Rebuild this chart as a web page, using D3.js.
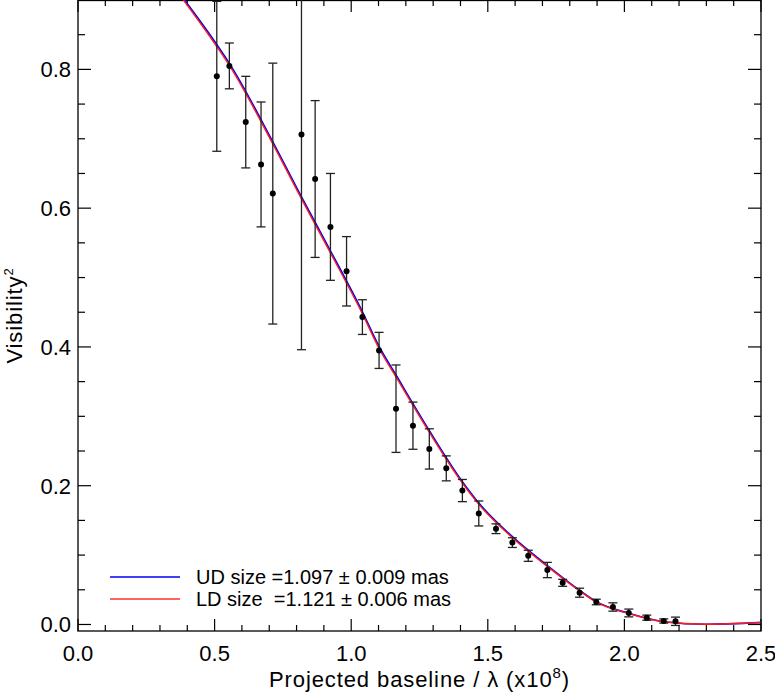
<!DOCTYPE html>
<html>
<head>
<meta charset="utf-8">
<script src="https://cdn.jsdelivr.net/npm/d3@7"></script>
<style>
  body { margin: 0; background: #fff; }
  svg { display: block; font-family: "Liberation Sans", Arial, sans-serif; }
</style>
</head>
<body>
<div id="chart"></div>
<script>
// measured points: baseline (x1e8), V^2 and its error
const baseline = [0.508, 0.554, 0.614, 0.670, 0.713, 0.818, 0.868, 0.924, 0.983, 1.041,
  1.102, 1.164, 1.226, 1.286, 1.348, 1.407, 1.467, 1.530, 1.590, 1.648,
  1.718, 1.774, 1.836, 1.897, 1.958, 2.016, 2.082, 2.144, 2.187];
const vis2 = [0.790, 0.805, 0.724, 0.663, 0.621, 0.706, 0.642, 0.573, 0.509, 0.443,
  0.395, 0.311, 0.2865, 0.253, 0.225, 0.193, 0.160, 0.138, 0.118, 0.099,
  0.0785, 0.060, 0.0458, 0.0324, 0.0252, 0.0166, 0.0098, 0.005, 0.0046];
const vis2Err = [0.108, 0.033, 0.066, 0.090, 0.188, 0.310, 0.113, 0.077, 0.050, 0.025,
  0.026, 0.063, 0.034, 0.029, 0.018, 0.016, 0.018, 0.007, 0.007, 0.008,
  0.011, 0.005, 0.0065, 0.004, 0.006, 0.0056, 0.0037, 0.003, 0.006];

// fitted curves
const udBase = [0.390, 0.506, 0.554, 0.713, 0.818, 0.924, 1.041, 1.103, 1.164, 1.285,
  1.407, 1.468, 1.590, 1.712, 1.834, 1.897, 2.016, 2.144, 2.297, 2.496];
const udVis2 = [0.900, 0.837, 0.8087, 0.6957, 0.6164, 0.5386, 0.4507, 0.400, 0.3595, 0.280,
  0.2058, 0.1746, 0.1265, 0.0867, 0.0497, 0.0329, 0.0161, 0.004, 0.0003, 0.0026];
const ldBase = [0.386, 0.506, 0.554, 0.713, 0.818, 0.924, 1.041, 1.103, 1.164, 1.285,
  1.407, 1.468, 1.590, 1.712, 1.834, 1.897, 2.016, 2.144, 2.297, 2.496];
const ldVis2 = [0.900, 0.834, 0.8057, 0.6927, 0.6134, 0.5356, 0.4477, 0.397, 0.3567, 0.2775,
  0.2038, 0.1728, 0.125, 0.0855, 0.049, 0.0323, 0.0158, 0.0039, 0.0004, 0.0028];

const xTicks = [0.0, 0.5, 1.0, 1.5, 2.0, 2.5];
const yTicks = [0.0, 0.2, 0.4, 0.6, 0.8];
const legendLabels = ['UD size =1.097 \u00b1 0.009 mas', 'LD size  =1.121 \u00b1 0.006 mas'];

const width = 775, height = 692;
const margin = {top: 0, right: 14, bottom: 61, left: 78};
const innerWidth = width - margin.left - margin.right,
      innerHeight = height - margin.top - margin.bottom;

const x = d3.scaleLinear().domain([0, 2.5]).range([0, innerWidth]);
const y = d3.scaleLinear().domain([-0.0094, 0.9]).range([innerHeight, 0]);

const svg = d3.select('#chart').append('svg')
  .attr('width', width)
  .attr('height', height);

svg.append('defs').append('clipPath').attr('id', 'clip')
  .append('rect').attr('width', innerWidth).attr('height', innerHeight);

const g = svg.append('g')
  .attr('transform', `translate(${margin.left},${margin.top})`);

// ###
// AXES (ticks on all four sides, pointing in)
// ###
const xMinor = d3.range(0, 26).map(i => i / 10);
const yMinor = d3.range(0, 19).map(i => i * 0.05);

const axisColor = '#000';
const frame = g.append('g').attr('class', 'frame');

xMinor.forEach(v => {
  const major = xTicks.some(t => Math.abs(t - v) < 1e-6);
  const len = major ? 12 : 6;
  frame.append('line').attr('x1', x(v)).attr('x2', x(v))
    .attr('y1', innerHeight).attr('y2', innerHeight - len)
    .attr('stroke', axisColor).attr('stroke-width', 1.2);
  frame.append('line').attr('x1', x(v)).attr('x2', x(v))
    .attr('y1', 0).attr('y2', len)
    .attr('stroke', axisColor).attr('stroke-width', 1.2);
});

yMinor.forEach(v => {
  const major = yTicks.some(t => Math.abs(t - v) < 1e-6);
  const len = major ? 13 : 7;
  frame.append('line').attr('y1', y(v)).attr('y2', y(v))
    .attr('x1', 0).attr('x2', len)
    .attr('stroke', axisColor).attr('stroke-width', 1.2);
  frame.append('line').attr('y1', y(v)).attr('y2', y(v))
    .attr('x1', innerWidth).attr('x2', innerWidth - len)
    .attr('stroke', axisColor).attr('stroke-width', 1.2);
});

frame.append('rect')
  .attr('x', 0).attr('y', 0.5)
  .attr('width', innerWidth).attr('height', innerHeight - 0.5)
  .attr('fill', 'none').attr('stroke', axisColor).attr('stroke-width', 1.3);

g.selectAll('.xlabel').data(xTicks).enter().append('text')
  .attr('class', 'xlabel')
  .attr('x', d => x(d)).attr('y', innerHeight + 30)
  .attr('text-anchor', 'middle')
  .style('font-size', '22px')
  .text(d => d.toFixed(1));

g.selectAll('.ylabel').data(yTicks).enter().append('text')
  .attr('class', 'ylabel')
  .attr('x', -7).attr('y', d => y(d))
  .attr('dy', '0.36em')
  .attr('text-anchor', 'end')
  .style('font-size', '22px')
  .text(d => d.toFixed(1));

const xt = svg.append('text')
  .attr('x', margin.left + innerWidth / 2).attr('y', 687)
  .attr('text-anchor', 'middle')
  .style('font-size', '22px')
  .style('letter-spacing', '0.9px');
xt.append('tspan').text('Projected baseline / \u03bb (x10');
xt.append('tspan').attr('dy', -9).style('font-size', '15px').text('8');
xt.append('tspan').attr('dy', 9).text(')');

const yt = svg.append('text')
  .attr('transform', `translate(22,${margin.top + innerHeight / 2}) rotate(-90)`)
  .attr('text-anchor', 'middle')
  .style('font-size', '22px')
  .style('letter-spacing', '0.9px');
yt.append('tspan').text('Visibility');
yt.append('tspan').attr('dy', -9).style('font-size', '13px').text('2');

// ###
// DATA AND MODELS
// ###
const plot = g.append('g').attr('clip-path', 'url(#clip)');

const line = d3.line()
  .x(d => x(d[0]))
  .y(d => y(d[1]))
  .curve(d3.curveMonotoneX);

plot.append('path')
  .datum(udBase.map((b, i) => [b, udVis2[i]]))
  .attr('d', line)
  .attr('fill', 'none')
  .attr('stroke', '#0000f0')
  .attr('stroke-width', 1.6);

plot.append('path')
  .datum(ldBase.map((b, i) => [b, ldVis2[i]]))
  .attr('d', line)
  .attr('fill', 'none')
  .attr('stroke', '#ff1a1a')
  .attr('stroke-width', 1.4);

const pts = baseline.map((b, i) => ({b, v: vis2[i], e: vis2Err[i]}));
const errColor = '#222';

const bars = plot.selectAll('.err').data(pts).enter().append('g').attr('class', 'err');
bars.append('line')
  .attr('x1', d => x(d.b)).attr('x2', d => x(d.b))
  .attr('y1', d => y(d.v - d.e)).attr('y2', d => y(d.v + d.e))
  .attr('stroke', errColor).attr('stroke-width', 1.3);
bars.append('line')
  .attr('x1', d => x(d.b) - 4.5).attr('x2', d => x(d.b) + 4.5)
  .attr('y1', d => y(d.v - d.e)).attr('y2', d => y(d.v - d.e))
  .attr('stroke', errColor).attr('stroke-width', 1.3);
bars.append('line')
  .attr('x1', d => x(d.b) - 4.5).attr('x2', d => x(d.b) + 4.5)
  .attr('y1', d => y(d.v + d.e)).attr('y2', d => y(d.v + d.e))
  .attr('stroke', errColor).attr('stroke-width', 1.3);
bars.append('circle')
  .attr('cx', d => x(d.b)).attr('cy', d => y(d.v))
  .attr('r', 3)
  .attr('fill', '#000');

// ###
// LEGEND
// ###
const legendColors = ['#0000f0', '#ff3030'];
const legend = g.append('g').attr('transform', 'translate(32,577)');
legendLabels.forEach((lab, i) => {
  legend.append('line')
    .attr('x1', 0).attr('x2', 70)
    .attr('y1', i * 22).attr('y2', i * 22)
    .attr('stroke', legendColors[i]).attr('stroke-width', 1.3);
  legend.append('text')
    .attr('x', 86).attr('y', i * 22 + 6.5)
    .style('font-size', '20px')
    .style('white-space', 'pre')
    .attr('xml:space', 'preserve')
    .text(lab);
});
</script>
</body>
</html>
